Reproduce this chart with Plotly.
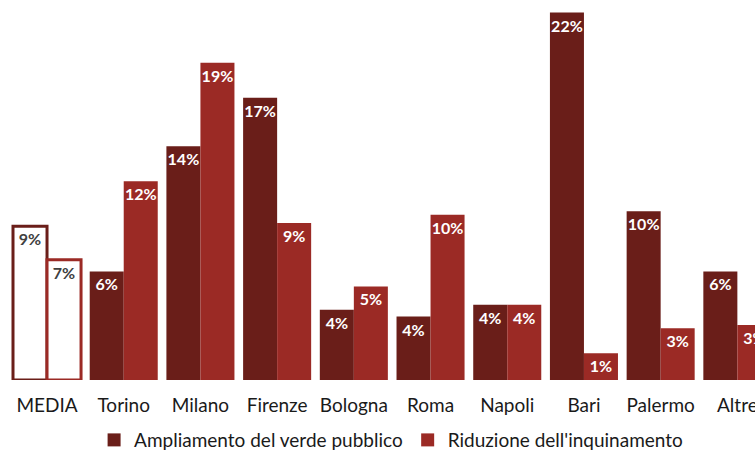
import plotly.graph_objects as go

categories = ["MEDIA", "Torino", "Milano", "Firenze", "Bologna", "Roma", "Napoli", "Bari", "Palermo", "Altre"]
verde = [9.2, 6.5, 14.0, 16.9, 4.2, 3.8, 4.5, 22.0, 10.1, 6.5]
inquinamento = [7.2, 11.9, 19.0, 9.4, 5.6, 9.9, 4.5, 1.6, 3.1, 3.3]
verde_labels = ["9%", "6%", "14%", "17%", "4%", "4%", "4%", "22%", "10%", "6%"]
inq_labels = ["7%", "12%", "19%", "9%", "5%", "10%", "4%", "1%", "3%", "3%"]
series_names = ["Ampliamento del verde pubblico", "Riduzione dell'inquinamento"]

DARK = "#6A1E19"
RED = "#9B2A25"
TXT_DARK = "#404040"

def fills(col):
    return ["white"] + [col] * (len(categories) - 1)

def textcols():
    return [TXT_DARK] + ["white"] * (len(categories) - 1)

fig = go.Figure()
for vals, labels, col, name in [(verde, verde_labels, DARK, series_names[0]),
                                (inquinamento, inq_labels, RED, series_names[1])]:
    fig.add_trace(go.Bar(
        x=categories, y=vals, name=name, showlegend=False,
        marker=dict(color=fills(col), line=dict(color=col, width=[3] + [0] * 9)),
        text=labels, textposition="inside", insidetextanchor="end", textangle=0,
        constraintext="none",
        textfont=dict(family="Lato", size=16, color=textcols(), weight="bold"),
    ))

for col, name in [(DARK, series_names[0]), (RED, series_names[1])]:
    fig.add_trace(go.Scatter(
        x=[None], y=[None], mode="markers", name=name,
        marker=dict(symbol="square", size=13, color=col),
    ))

fig.update_layout(
    width=755, height=452,
    margin=dict(l=0, r=0, t=0, b=72, autoexpand=False),
    paper_bgcolor="white", plot_bgcolor="white",
    barmode="group", bargap=0.113, bargroupgap=0,
    font=dict(family="Lato", size=19, color="#1a1a1a"),
    uniformtext=dict(minsize=16, mode="show"),
    showlegend=True,
    legend=dict(orientation="h", x=0.518, xanchor="center", y=-0.108, yanchor="top",
                font=dict(size=19), itemwidth=30, traceorder="normal"),
    xaxis=dict(type="category", range=[-0.613, 9.23], showline=False, showgrid=False,
               ticks="", ticklabelstandoff=12, tickfont=dict(size=19), fixedrange=True),
    yaxis=dict(range=[0, 22.75], visible=False, showgrid=False, zeroline=False),
)

fig.write_html(
    "out.html",
    config={"displayModeBar": False},
    post_script="document.body.style.margin='0';document.body.style.overflow='hidden';",
)
